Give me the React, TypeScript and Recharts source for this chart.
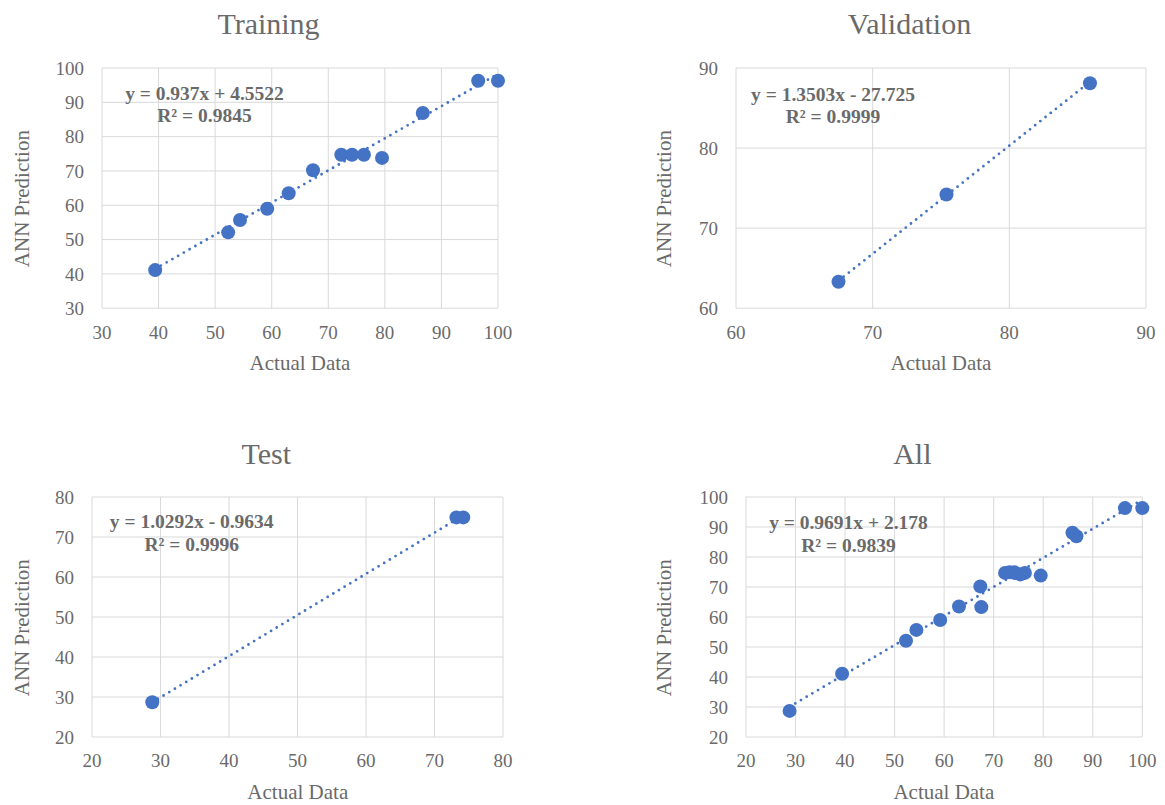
import { ScatterChart, Scatter, XAxis, YAxis, CartesianGrid } from 'recharts'

// values (actual vs ANN predicted)
const trainActual = [39.4, 52.3, 54.4, 59.2, 63.0, 67.3, 72.3, 74.2, 76.3, 79.5, 86.7, 96.5, 100.0]
const trainPredicted = [41.1, 52.1, 55.7, 59.0, 63.5, 70.2, 74.7, 74.7, 74.7, 73.8, 86.9, 96.3, 96.3]
const validActual = [67.5, 75.4, 85.9]
const validPredicted = [63.3, 74.2, 88.1]
const testActual = [28.8, 73.2, 74.2]
const testPredicted = [28.7, 74.9, 74.9]
const allActual = [...trainActual, ...validActual, ...testActual]
const allPredicted = [...trainPredicted, ...validPredicted, ...testPredicted]

// linear fits: [slope, intercept]
const trainFit = [0.937, 4.5522]
const validFit = [1.3503, -27.725]
const testFit = [1.0292, -0.9634]
const allFit = [0.9691, 2.178]

const ticks30to100 = [30, 40, 50, 60, 70, 80, 90, 100]
const ticks60to90 = [60, 70, 80, 90]
const ticks20to80 = [20, 30, 40, 50, 60, 70, 80]
const ticks20to100 = [20, 30, 40, 50, 60, 70, 80, 90, 100]

const FONT = '"Times New Roman", "Liberation Serif", serif'
const GRAY = '#6a6a6a'
const BLUE = '#4472C4'
const GRID = '#d9d9d9'

type Pt = { x: number; y: number }

const zip = (a: number[], b: number[]): Pt[] => a.map((x, i) => ({ x, y: b[i] }))

function trendPoints(actual: number[], fit: number[]): Pt[] {
  const [m, b] = fit
  const lo = Math.min(...actual)
  const hi = Math.max(...actual)
  return [{ x: lo, y: m * lo + b }, { x: hi, y: m * hi + b }]
}

const panels = [
  {
    title: 'Training', actual: trainActual, predicted: trainPredicted, fit: trainFit,
    ticksX: ticks30to100, ticksY: ticks30to100, plot: [102, 67.5, 498, 307.7],
    eq: 'y = 0.937x + 4.5522', r2: 'R² = 0.9845', eqX: 204.5, eqY: 99.5, yTitleX: 29,
  },
  {
    title: 'Validation', actual: validActual, predicted: validPredicted, fit: validFit,
    ticksX: ticks60to90, ticksY: ticks60to90, plot: [736, 67.5, 1146, 307.7],
    eq: 'y = 1.3503x - 27.725', r2: 'R² = 0.9999', eqX: 833, eqY: 100.7, yTitleX: 671,
  },
  {
    title: 'Test', actual: testActual, predicted: testPredicted, fit: testFit,
    ticksX: ticks20to80, ticksY: ticks20to80, plot: [92.3, 496.7, 503.3, 736.7],
    eq: 'y = 1.0292x - 0.9634', r2: 'R² = 0.9996', eqX: 191.7, eqY: 528.3, yTitleX: 29,
  },
  {
    title: 'All', actual: allActual, predicted: allPredicted, fit: allFit,
    ticksX: ticks20to100, ticksY: ticks20to100, plot: [745.7, 496.7, 1142, 736.7],
    eq: 'y = 0.9691x + 2.178', r2: 'R² = 0.9839', eqX: 848.5, eqY: 529.3, yTitleX: 671,
  },
]

const YW = 90
const XH = 60
const PT = 20
const PR = 20

// recharts' own tick text ignored the serif font, so draw the label ourselves
const XTick = ({ x, y, payload }: any) => (
  <text x={x} y={y} dy="0.71em" textAnchor="middle" fill={GRAY} fontSize={19} fontFamily={FONT}>
    {payload.value}
  </text>
)
const YTick = ({ x, y, payload }: any) => (
  <text x={x} y={y} dy="0.355em" textAnchor="end" fill={GRAY} fontSize={19} fontFamily={FONT}>
    {payload.value}
  </text>
)

function Panel({ p }: { p: (typeof panels)[number] }) {
  const [x0, y0, x1, y1] = p.plot
  const width = x1 - x0 + YW + PR
  const height = y1 - y0 + PT + XH
  const points = zip(p.actual, p.predicted)
  const trend = trendPoints(p.actual, p.fit)
  const xDom = [p.ticksX[0], p.ticksX[p.ticksX.length - 1]]
  const yDom = [p.ticksY[0], p.ticksY[p.ticksY.length - 1]]

  return (
    <div style={{ position: 'absolute', left: x0 - YW, top: y0 - PT }}>
      <ScatterChart width={width} height={height} margin={{ top: PT, right: PR, bottom: 0, left: 0 }}>
        <CartesianGrid stroke={GRID} strokeWidth={1} />
        <XAxis
          type="number"
          dataKey="x"
          domain={xDom}
          ticks={p.ticksX}
          interval={0}
          axisLine={false}
          tickLine={false}
          tickSize={0}
          tickMargin={17}
          height={XH}
          tick={<XTick />}
        />
        <YAxis
          type="number"
          dataKey="y"
          domain={yDom}
          ticks={p.ticksY}
          interval={0}
          axisLine={false}
          tickLine={false}
          tickSize={0}
          tickMargin={18}
          width={YW}
          tick={<YTick />}
        />
        <Scatter
          data={trend}
          fill={BLUE}
          line={{ stroke: BLUE, strokeWidth: 2.8, strokeDasharray: '0 6.6', strokeLinecap: 'round' }}
          shape={() => <g />}
          isAnimationActive={false}
        />
        <Scatter
          data={points}
          fill={BLUE}
          shape={(s: any) => <circle cx={s.cx} cy={s.cy} r={7} fill={BLUE} />}
          isAnimationActive={false}
        />
      </ScatterChart>
    </div>
  )
}

export default function App() {
  return (
    <div style={{ position: 'absolute', left: 0, top: 0, width: 1165, height: 805, background: '#fff' }}>
      {panels.map(p => <Panel key={p.title} p={p} />)}
      <svg width={1165} height={805} style={{ position: 'absolute', left: 0, top: 0, pointerEvents: 'none' }}>
        {panels.map(p => {
          const [x0, y0, x1, y1] = p.plot
          const cx = (x0 + x1) / 2
          const cy = (y0 + y1) / 2
          return (
            <g key={p.title} fontFamily={FONT} fill={GRAY}>
              <text x={cx - 31.5} y={y0 - 33.2} fontSize={30} textAnchor="middle">{p.title}</text>
              <text x={cx} y={y1 + 62.5} fontSize={21} textAnchor="middle">Actual Data</text>
              <text
                x={p.yTitleX}
                y={cy + 11}
                fontSize={21}
                textAnchor="middle"
                transform={`rotate(-90 ${p.yTitleX} ${cy + 11})`}
              >
                ANN Prediction
              </text>
              <text x={p.eqX} y={p.eqY} fontSize={19.5} fontWeight="bold" textAnchor="middle">{p.eq}</text>
              <text x={p.eqX} y={p.eqY + 22.3} fontSize={19.5} fontWeight="bold" textAnchor="middle">{p.r2}</text>
            </g>
          )
        })}
      </svg>
    </div>
  )
}
